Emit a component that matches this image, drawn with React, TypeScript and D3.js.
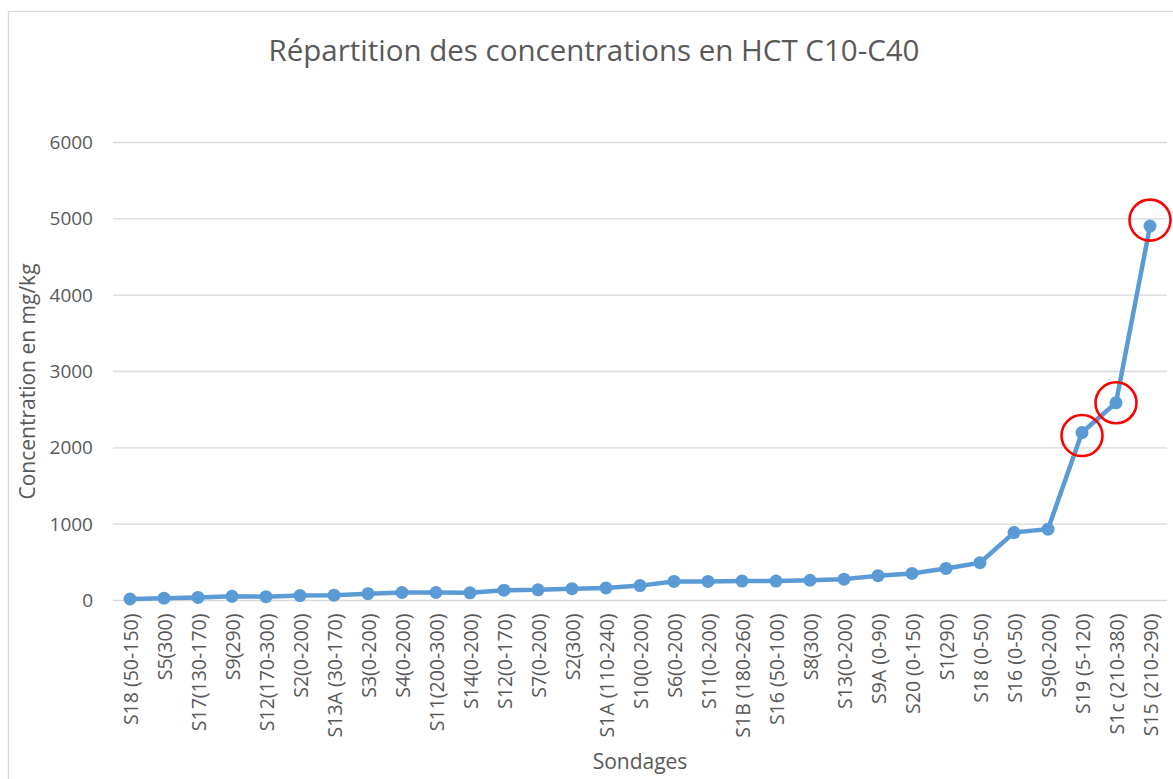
import * as d3 from 'd3';
import { useEffect, useRef } from 'react';

// Sondages (catégories) et concentrations HCT C10-C40 en mg/kg
const sondages = [
  'S18 (50-150)',
  'S5(300)',
  'S17(130-170)',
  'S9(290)',
  'S12(170-300)',
  'S2(0-200)',
  'S13A (30-170)',
  'S3(0-200)',
  'S4(0-200)',
  'S11(200-300)',
  'S14(0-200)',
  'S12(0-170)',
  'S7(0-200)',
  'S2(300)',
  'S1A (110-240)',
  'S10(0-200)',
  'S6(0-200)',
  'S11(0-200)',
  'S1B (180-260)',
  'S16 (50-100)',
  'S8(300)',
  'S13(0-200)',
  'S9A (0-90)',
  'S20 (0-150)',
  'S1(290)',
  'S18 (0-50)',
  'S16 (0-50)',
  'S9(0-200)',
  'S19 (5-120)',
  'S1c (210-380)',
  'S15 (210-290)',
];

const concentrations = [
  20, 30, 40, 55, 50, 65, 70, 90, 105, 105, 100, 135, 140, 155, 165, 195, 250, 250, 255, 255, 265,
  280, 325, 355, 420, 495, 890, 935, 2200, 2590, 4905,
];

const yTicks = [0, 1000, 2000, 3000, 4000, 5000, 6000];

// sondages entourés en rouge
const highlighted = ['S19 (5-120)', 'S1c (210-380)', 'S15 (210-290)'];
const highlightShift = [3, 0, -6];

const title = 'Répartition des concentrations en HCT C10-C40';
const yTitle = 'Concentration en mg/kg';
const xTitle = 'Sondages';

export default function App() {
  const width = 1173;
  const height = 779;
  const marginLeft = 113;
  const plotRight = 1167;
  const plotTop = 142.5;
  const plotBottom = 600.5;
  const font = "'Open Sans', sans-serif";
  const textColor = '#595959';

  const ref = useRef<HTMLDivElement>(null);

  useEffect(() => {
    if (!ref.current) return;

    const x = d3.scalePoint<string>().domain(sondages).range([marginLeft, plotRight]).padding(0.5);
    const y = d3.scaleLinear().domain([0, 6000]).range([plotBottom, plotTop]);

    const svg = d3
      .create('svg')
      .attr('width', width)
      .attr('height', height)
      .style('position', 'absolute')
      .style('left', 0)
      .style('top', 0)
      .style('font-family', font);

    svg.append('rect').attr('width', width).attr('height', height).attr('fill', '#fff');

    // cadre du graphique
    svg
      .append('rect')
      .attr('x', 8.5)
      .attr('y', 11.5)
      .attr('width', 1180)
      .attr('height', 800)
      .attr('fill', 'none')
      .attr('stroke', '#d9d9d9')
      .attr('stroke-width', 1.3);

    // titre
    svg
      .append('text')
      .attr('x', 594)
      .attr('y', 61)
      .attr('text-anchor', 'middle')
      .attr('font-size', 29.5)
      .attr('fill', textColor)
      .text(title);

    // grille horizontale
    svg
      .append('g')
      .selectAll('line')
      .data(yTicks)
      .join('line')
      .attr('x1', marginLeft)
      .attr('x2', plotRight)
      .attr('y1', (d) => y(d))
      .attr('y2', (d) => y(d))
      .attr('stroke', '#d9d9d9')
      .attr('stroke-width', 1.4);

    // axe y
    const yAxis = svg
      .append('g')
      .attr('transform', `translate(${marginLeft - 20},0)`)
      .call(d3.axisLeft(y).tickValues(yTicks).tickFormat(d3.format('d')).tickSize(0).tickPadding(0));
    yAxis.select('.domain').remove();
    yAxis
      .selectAll('text')
      .attr('font-size', 19)
      .attr('font-family', font)
      .attr('fill', textColor);

    // axe x
    const xAxis = svg
      .append('g')
      .attr('transform', `translate(0,${plotBottom})`)
      .call(d3.axisBottom(x).tickSize(0).tickPadding(0));
    xAxis.select('.domain').remove();
    xAxis
      .selectAll('text')
      .attr('font-size', 19.5)
      .attr('font-family', font)
      .attr('fill', textColor)
      .attr('text-anchor', 'end')
      .attr('transform', 'translate(0,13) rotate(-90)')
      .attr('x', 0)
      .attr('y', 0)
      .attr('dy', '0.36em');

    // titres des axes
    svg
      .append('text')
      .attr('transform', `translate(27,${(plotTop + plotBottom) / 2 + 10}) rotate(-90)`)
      .attr('text-anchor', 'middle')
      .attr('dy', '0.36em')
      .attr('font-size', 21)
      .attr('fill', textColor)
      .text(yTitle);

    svg
      .append('text')
      .attr('x', (marginLeft + plotRight) / 2)
      .attr('y', 769)
      .attr('text-anchor', 'middle')
      .attr('font-size', 21)
      .attr('fill', textColor)
      .text(xTitle);

    const points = sondages.map((s, i) => ({ s, v: concentrations[i] }));

    const line = d3
      .line<{ s: string; v: number }>()
      .x((d) => x(d.s)!)
      .y((d) => y(d.v));

    svg
      .append('path')
      .datum(points)
      .attr('fill', 'none')
      .attr('stroke', '#5b9bd5')
      .attr('stroke-width', 4.5)
      .attr('stroke-linejoin', 'round')
      .attr('d', line);

    svg
      .append('g')
      .selectAll('circle')
      .data(points)
      .join('circle')
      .attr('cx', (d) => x(d.s)!)
      .attr('cy', (d) => y(d.v))
      .attr('r', 6.5)
      .attr('fill', '#5b9bd5');

    // cercles rouges
    svg
      .append('g')
      .selectAll('circle')
      .data(highlighted)
      .join('circle')
      .attr('cx', (d) => x(d)!)
      .attr('cy', (d, i) => y(concentrations[sondages.indexOf(d)]) + highlightShift[i])
      .attr('r', 20.5)
      .attr('fill', 'none')
      .attr('stroke', '#ff0000')
      .attr('stroke-width', 2.6);

    ref.current.innerHTML = '';
    ref.current.appendChild(svg.node()!);
  }, [ref]);

  return <div ref={ref} />;
}
